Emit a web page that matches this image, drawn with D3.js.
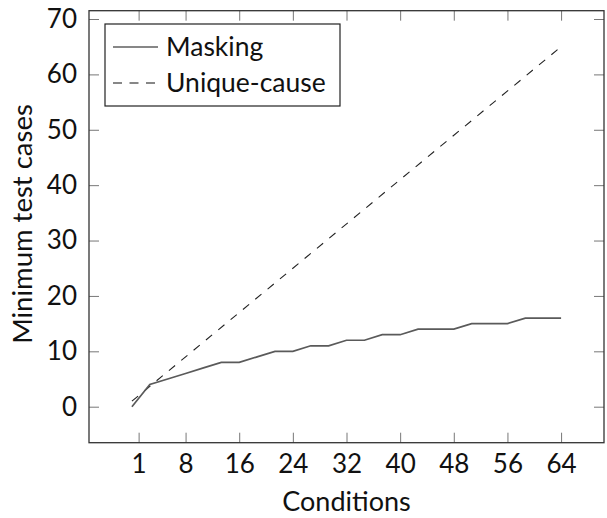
<!DOCTYPE html>
<html>
<head>
<meta charset="utf-8">
<script src="https://cdn.jsdelivr.net/npm/d3@7"></script>
<style>
  body { margin: 0; background: #fff; }
  text { font-family: Lato, "Open Sans", sans-serif; fill: #111; }
</style>
</head>
<body>
<div id="chart"></div>
<script>
// data (25 samples over 0..64)
const maskingX = [0, 2.67, 5.33, 8, 10.67, 13.33, 16, 18.67, 21.33, 24, 26.67, 29.33, 32,
                  34.67, 37.33, 40, 42.67, 45.33, 48, 50.67, 53.33, 56, 58.67, 61.33, 64];
const maskingY = [0, 4, 5, 6, 7, 8, 8, 9, 10, 10, 11, 11, 12,
                  12, 13, 13, 14, 14, 14, 15, 15, 15, 16, 16, 16];
const uniqueX = [0, 64];
const uniqueY = [1, 65];
const xTicks = [1, 8, 16, 24, 32, 40, 48, 56, 64];
const yTicks = [0, 10, 20, 30, 40, 50, 60, 70];
const seriesNames = ['Masking', 'Unique-cause'];

const width = 607;
const height = 518;
const margin = { top: 10.7, right: 3, bottom: 75.3, left: 89 };
const innerW = width - margin.left - margin.right;
const innerH = height - margin.top - margin.bottom;

const svg = d3.select('div#chart').append('svg').attr('width', width).attr('height', height);
const g = svg.append('g').attr('transform', `translate(${margin.left},${margin.top})`);

const x = d3.scaleLinear().domain([-6.4, 70.4]).range([0, innerW]);
const y = d3.scaleLinear().domain([-6.5, 71.5]).range([innerH, 0]);

const tickLen = 10;
const tickColor = '#777';

// ticks on all four sides, pointing in
const xb = g.append('g').attr('transform', `translate(0,${innerH})`)
  .call(d3.axisBottom(x).tickValues(xTicks).tickSize(-tickLen).tickPadding(12));
const xt = g.append('g')
  .call(d3.axisTop(x).tickValues(xTicks).tickSize(-tickLen).tickFormat(''));
const yl = g.append('g')
  .call(d3.axisLeft(y).tickValues(yTicks).tickSize(-tickLen).tickPadding(12));
const yr = g.append('g').attr('transform', `translate(${innerW},0)`)
  .call(d3.axisRight(y).tickValues(yTicks).tickSize(-tickLen).tickFormat(''));

[xb, xt, yl, yr].forEach(a => {
  a.select('.domain').remove();
  a.selectAll('.tick line').attr('stroke', tickColor).attr('stroke-width', 1);
  a.selectAll('.tick text').style('font-size', '26px').attr('fill', '#111');
});

// frame
g.append('rect').attr('x', 0).attr('y', 0).attr('width', innerW).attr('height', innerH)
  .attr('fill', 'none').attr('stroke', '#333').attr('stroke-width', 1.3);

const line = d3.line().x(d => x(d[0])).y(d => y(d[1]));

g.append('path')
  .datum(uniqueX.map((v, i) => [v, uniqueY[i]]))
  .attr('d', line)
  .attr('fill', 'none').attr('stroke', '#222').attr('stroke-width', 1.1)
  .attr('stroke-dasharray', '8,8');

g.append('path')
  .datum(maskingX.map((v, i) => [v, maskingY[i]]))
  .attr('d', line)
  .attr('fill', 'none').attr('stroke', '#5a5a5a').attr('stroke-width', 1.7);

// axis titles
svg.append('text').attr('x', margin.left + innerW / 2).attr('y', 511)
  .attr('text-anchor', 'middle').style('font-size', '27px').text('Conditions');
svg.append('text').attr('transform', 'translate(32,224) rotate(-90)')
  .attr('text-anchor', 'middle').style('font-size', '27.5px').text('Minimum test cases');

// legend
const leg = svg.append('g').attr('transform', 'translate(105,24)');
leg.append('rect').attr('width', 235).attr('height', 82)
  .attr('fill', '#fff').attr('stroke', '#222').attr('stroke-width', 1.2);
const dashes = [null, '9,7.5'];
seriesNames.forEach((name, i) => {
  const cy = 23 + i * 36;
  leg.append('line').attr('x1', 8).attr('x2', 53).attr('y1', cy).attr('y2', cy)
    .attr('stroke', '#111').attr('stroke-width', 1.1)
    .attr('stroke-dasharray', dashes[i]);
  leg.append('text').attr('x', 61).attr('y', cy + 9).style('font-size', '26.5px').text(name);
});
</script>
</body>
</html>
